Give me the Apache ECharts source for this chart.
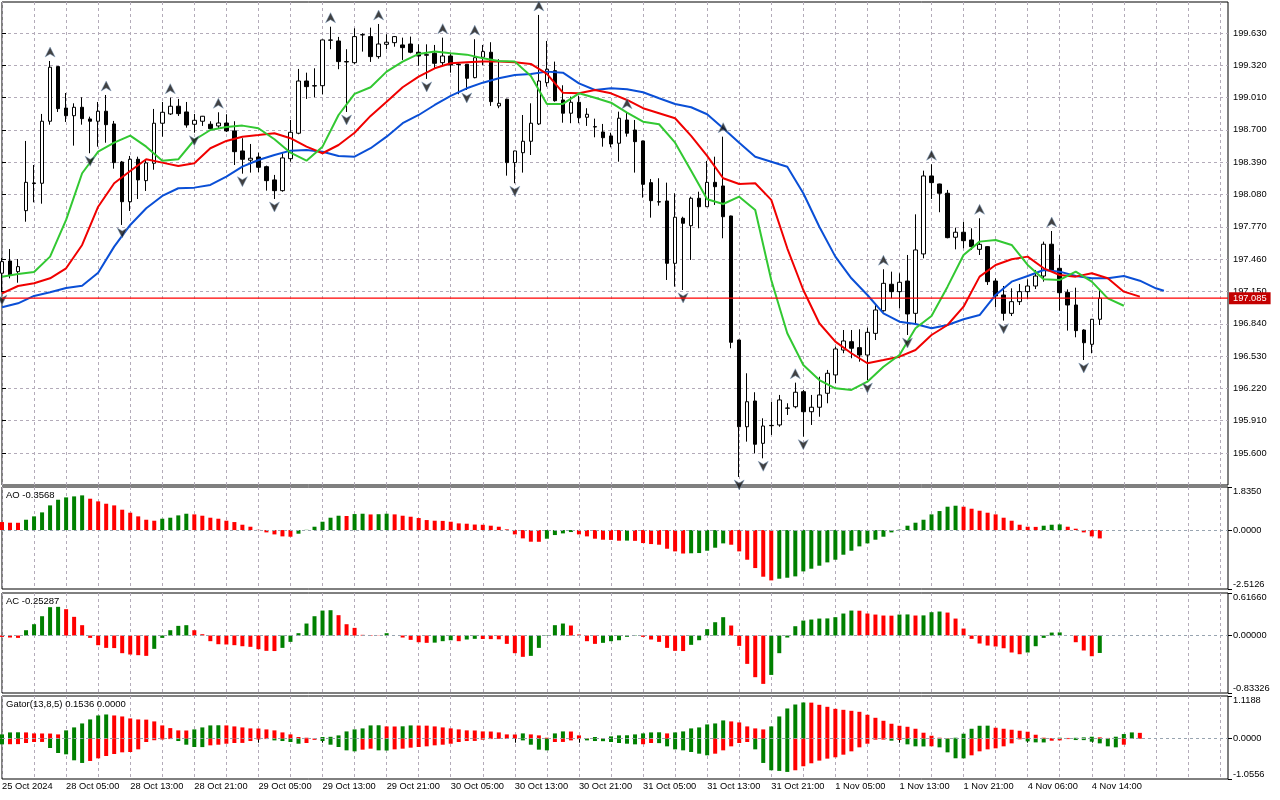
<!DOCTYPE html>
<html><head><meta charset="utf-8">
<script src="https://cdn.jsdelivr.net/npm/echarts@6.0.0/dist/echarts.min.js"></script>
<style>html,body{margin:0;padding:0;background:#fff}#c{width:1280px;height:800px}</style>
</head><body><div id="c"></div>
<script>
// ---------- DATA ----------
// candles: [open, close, low, high], one per H1 bar
const candles = [
[197.325,197.436,197.145,197.471],[197.442,197.305,197.276,197.557],[197.340,197.388,197.234,197.461],[197.925,198.197,197.819,198.594],
[198.191,198.186,198.005,198.363],[198.188,198.783,197.992,198.853],[198.783,199.301,198.750,199.361],[199.307,198.904,198.872,199.310],
[198.910,198.836,198.776,199.054],[198.836,198.917,198.549,198.955],[198.917,198.808,198.750,199.013],[198.805,198.783,198.476,198.827],
[198.783,198.879,198.539,198.968],[198.879,198.750,198.577,199.035],[198.757,198.386,198.328,198.786],[198.392,198.011,197.788,198.402],
[198.011,198.418,197.922,198.450],[198.418,198.220,198.037,198.443],[198.213,198.383,198.114,198.418],[198.380,198.764,198.318,198.901],
[198.764,198.869,198.635,198.968],[198.853,198.927,198.843,199.009],[198.927,198.856,198.834,198.997],[198.872,198.747,198.721,198.968],
[198.754,198.792,198.673,198.853],[198.783,198.831,198.738,198.834],[198.754,198.712,198.699,198.783],[198.738,198.766,198.712,198.869],
[198.766,198.690,198.680,198.850],[198.690,198.491,198.363,198.783],[198.498,198.418,198.280,198.620],[198.409,198.428,198.290,198.565],
[198.440,198.341,198.294,198.481],[198.347,198.213,198.117,198.357],[198.220,198.117,198.037,198.268],[198.117,198.431,198.107,198.476],
[198.424,198.677,198.395,198.795],[198.668,199.169,198.658,199.285],[199.169,199.115,198.997,199.249],[199.124,199.121,199.013,199.291],
[199.124,199.563,199.042,199.566],[199.560,199.563,199.474,199.690],[199.553,199.355,199.282,199.592],[199.355,199.352,198.872,199.474],
[199.345,199.595,199.333,199.675],[199.611,199.614,199.451,199.627],[199.595,199.403,199.352,199.681],[199.403,199.524,199.383,199.716],
[199.521,199.541,199.474,199.617],[199.537,199.595,199.498,199.601],[199.515,199.489,199.371,199.585],[199.524,199.445,199.435,199.595],
[199.445,199.409,199.316,199.521],[199.416,199.422,199.189,199.521],[199.435,199.339,199.291,199.515],[199.345,199.409,199.316,199.585],
[199.409,199.323,199.249,199.435],[199.330,199.326,199.042,199.339],[199.330,199.195,199.083,199.333],[199.201,199.393,199.195,199.570],
[199.397,199.451,199.323,199.515],[199.445,198.971,198.930,199.541],[198.930,198.955,198.908,199.378],[198.994,198.386,198.261,198.999],
[198.386,198.498,198.188,198.500],[198.481,198.591,198.290,198.843],[198.591,198.764,198.459,198.955],[198.757,199.169,198.747,199.803],
[199.153,199.282,199.115,199.553],[199.268,198.980,198.971,199.355],[198.987,198.860,198.769,199.128],[198.860,198.965,198.764,199.019],
[198.965,198.817,198.764,199.028],[198.821,198.850,198.738,198.908],[198.731,198.728,198.629,198.808],[198.680,198.625,198.539,198.757],
[198.642,198.565,198.533,198.673],[198.572,198.812,198.395,198.875],[198.795,198.668,198.635,198.865],[198.699,198.587,198.290,198.795],
[198.594,198.178,198.050,198.597],[198.194,198.021,197.858,198.229],[198.011,198.008,197.973,198.236],[198.018,197.420,197.260,198.194],
[197.420,197.862,197.196,198.092],[197.852,197.804,197.164,197.867],[197.781,198.044,197.452,198.059],[198.044,197.963,197.756,198.107],
[197.963,198.197,197.960,198.402],[198.197,198.155,197.980,198.443],[198.162,197.867,197.660,198.635],[197.874,196.662,196.605,197.877],
[196.684,195.852,195.370,196.687],[195.852,196.092,195.709,196.365],[196.099,195.684,195.597,196.183],[195.693,195.859,195.549,195.933],
[195.862,195.865,195.773,196.092],[195.869,196.109,195.852,196.157],[196.029,196.032,195.965,196.077],[196.044,196.183,196.029,196.275],
[196.188,195.996,195.757,196.205],[195.996,196.039,195.869,196.157],[196.039,196.157,195.948,196.332],[196.173,196.365,196.077,196.397],
[196.349,196.598,196.269,196.620],[196.588,196.675,196.557,196.780],[196.668,196.605,196.509,196.780],[196.611,196.540,196.476,196.787],
[196.540,196.758,196.300,196.802],[196.748,196.972,196.684,197.020],[196.965,197.228,196.956,197.363],[197.219,197.148,197.084,197.340],
[197.148,197.238,196.989,197.324],[197.250,196.934,196.732,197.500],[196.940,197.548,196.828,197.890],[197.510,198.258,197.468,198.309],
[198.258,198.194,198.037,198.370],[198.181,198.092,197.910,198.184],[198.092,197.666,197.660,198.124],[197.670,197.718,197.554,197.762],
[197.718,197.637,197.564,197.819],[197.644,197.580,197.548,197.756],[197.554,197.602,197.500,197.852],[197.580,197.244,197.212,197.586],
[197.250,197.107,196.998,197.276],[197.116,196.940,196.870,197.202],[196.940,197.052,196.914,197.180],[197.052,197.148,197.020,197.222],
[197.148,197.202,197.075,197.266],[197.202,197.298,197.173,197.356],[197.298,197.603,197.244,197.628],[197.603,197.356,197.349,197.730],
[197.372,197.138,196.965,197.500],[197.141,197.020,196.774,197.170],[197.020,196.774,196.710,197.186],[196.780,196.658,196.492,196.787],
[196.643,196.883,196.557,196.886],[196.883,197.085,196.828,197.164]
];
const lastPrice = 197.085;

// Alligator lines: [bar index, price] (jaw shifted 8, teeth 5, lips 3)
const jawPts = [[0,196.998],[2,197.036],[4,197.107],[6,197.142],[8,197.183],[10,197.205],[12,197.330],[14,197.580],[16,197.788],[18,197.948],[20,198.066],[22,198.140],[24,198.146],[26,198.172],[28,198.251],[30,198.347],[32,198.411],[34,198.459],[36,198.501],[38,198.507],[40,198.491],[42,198.450],[44,198.443],[46,198.524],[48,198.635],[50,198.764],[52,198.843],[54,198.939],[56,199.026],[58,199.099],[60,199.153],[62,199.195],[64,199.227],[66,199.237],[68,199.259],[70,199.249],[72,199.147],[74,199.083],[76,199.099],[78,199.090],[80,199.061],[82,199.003],[84,198.949],[86,198.917],[88,198.850],[90,198.716],[92,198.577],[94,198.443],[96,198.395],[98,198.347],[100,198.092],[102,197.771],[104,197.484],[106,197.276],[108,197.116],[110,196.940],[112,196.860],[114,196.838],[116,196.797],[118,196.828],[120,196.883],[122,196.924],[124,197.116],[126,197.244],[128,197.298],[130,197.356],[132,197.340],[134,197.298],[136,197.276],[138,197.276],[140,197.298],[142,197.253],[144,197.180],[145,197.157]];
const teethPts = [[0,197.132],[2,197.202],[4,197.228],[6,197.276],[8,197.372],[10,197.596],[12,197.963],[14,198.188],[16,198.306],[18,198.418],[20,198.386],[22,198.354],[24,198.380],[26,198.524],[28,198.594],[30,198.635],[32,198.651],[34,198.668],[36,198.620],[38,198.539],[40,198.476],[42,198.555],[44,198.673],[46,198.834],[48,198.971],[50,199.109],[52,199.211],[54,199.291],[56,199.339],[58,199.349],[60,199.355],[62,199.355],[64,199.349],[66,199.333],[68,199.237],[70,199.057],[72,199.051],[74,199.083],[76,199.051],[78,198.987],[80,198.908],[82,198.860],[84,198.812],[86,198.642],[88,198.450],[90,198.236],[92,198.181],[94,198.188],[96,198.028],[98,197.564],[100,197.164],[102,196.845],[104,196.668],[106,196.557],[108,196.461],[110,196.492],[112,196.524],[114,196.588],[116,196.732],[118,196.828],[120,197.004],[122,197.292],[124,197.404],[126,197.459],[128,197.484],[130,197.372],[132,197.308],[134,197.292],[136,197.324],[138,197.276],[140,197.148],[142,197.100]];
const lipsPts = [[0,197.292],[2,197.318],[4,197.337],[6,197.484],[8,197.836],[10,198.284],[12,198.491],[14,198.577],[16,198.645],[18,198.539],[20,198.405],[22,198.418],[24,198.603],[26,198.699],[28,198.728],[30,198.741],[32,198.716],[34,198.610],[36,198.481],[38,198.405],[40,198.539],[42,198.843],[44,199.045],[46,199.109],[48,199.259],[50,199.355],[52,199.429],[54,199.451],[56,199.435],[58,199.422],[60,199.387],[62,199.361],[64,199.355],[66,199.217],[68,198.949],[70,198.949],[72,199.051],[74,199.009],[76,198.961],[78,198.865],[80,198.779],[82,198.754],[84,198.577],[86,198.309],[88,198.034],[90,197.989],[92,198.059],[94,197.932],[96,197.260],[98,196.749],[100,196.444],[102,196.300],[104,196.221],[106,196.205],[108,196.284],[110,196.428],[112,196.540],[114,196.797],[116,196.915],[118,197.196],[120,197.500],[122,197.628],[124,197.644],[126,197.596],[128,197.404],[130,197.267],[132,197.260],[134,197.340],[136,197.244],[138,197.084],[140,197.013]];

// Fractal bars
const fractalUp = [6,13,21,27,41,47,55,59,67,78,90,99,110,116,122,131];
const fractalDown = [0,11,15,24,30,34,43,53,58,64,85,92,95,100,108,113,125,135];

// Awesome Oscillator
const ao = [0.341,0.313,0.310,0.440,0.583,0.753,1.051,1.293,1.392,1.435,1.478,1.336,1.222,1.122,1.051,0.867,0.739,0.583,0.440,0.398,
0.483,0.526,0.625,0.696,0.668,0.611,0.526,0.483,0.398,0.341,0.227,0.142,0.010,-0.099,-0.185,-0.270,-0.284,-0.156,0.010,0.142,
0.355,0.526,0.611,0.600,0.682,0.696,0.665,0.675,0.696,0.668,0.611,0.568,0.512,0.426,0.398,0.390,0.355,0.284,0.270,0.235,
0.225,0.185,0.142,0.030,-0.185,-0.355,-0.497,-0.500,-0.369,-0.213,-0.142,-0.085,-0.185,-0.270,-0.369,-0.412,-0.420,-0.455,-0.450,-0.460,
-0.554,-0.597,-0.625,-0.796,-0.909,-1.000,-0.990,-0.980,-0.881,-0.753,-0.568,-0.625,-0.909,-1.265,-1.620,-1.989,-2.146,-2.074,-2.032,-1.975,
-1.762,-1.648,-1.520,-1.378,-1.265,-1.051,-0.881,-0.696,-0.568,-0.412,-0.284,-0.099,0.015,0.185,0.313,0.440,0.668,0.810,0.995,1.037,
0.995,0.909,0.824,0.739,0.668,0.526,0.398,0.227,0.142,0.135,0.185,0.227,0.240,0.142,0.057,-0.099,-0.270,-0.3568];

// Accelerator Oscillator
const ac = [-0.020,-0.029,-0.034,0.077,0.164,0.280,0.411,0.416,0.382,0.271,0.150,-0.034,-0.140,-0.179,-0.182,-0.256,-0.275,-0.285,-0.295,-0.193,
-0.034,0.077,0.140,0.150,0.077,0.019,-0.082,-0.126,-0.130,-0.140,-0.155,-0.164,-0.198,-0.222,-0.225,-0.179,-0.092,0.034,0.174,0.280,
0.362,0.367,0.295,0.164,0.111,0.010,0.007,0.003,0.034,0.000,-0.029,-0.063,-0.097,-0.106,-0.103,-0.082,-0.068,-0.082,-0.058,-0.048,
-0.050,-0.052,-0.055,-0.121,-0.256,-0.309,-0.295,-0.179,-0.005,0.150,0.174,0.145,0.015,-0.082,-0.121,-0.106,-0.082,-0.068,-0.019,-0.005,
-0.019,-0.058,-0.092,-0.179,-0.222,-0.225,-0.135,-0.068,0.092,0.193,0.266,0.145,-0.150,-0.411,-0.604,-0.701,-0.571,-0.256,-0.029,0.135,
0.217,0.232,0.246,0.248,0.266,0.319,0.362,0.360,0.319,0.304,0.290,0.288,0.304,0.306,0.290,0.292,0.338,0.348,0.333,0.246,
0.101,-0.048,-0.116,-0.145,-0.159,-0.184,-0.246,-0.271,-0.246,-0.155,-0.034,0.043,0.045,0.000,-0.097,-0.217,-0.300,-0.25287];

// Gator oscillator: upper |jaw-teeth|, lower -|teeth-lips|
const gatorUp = [0.113,0.165,0.168,0.165,0.139,0.137,0.135,0.113,0.218,0.296,0.400,0.505,0.609,0.635,0.609,0.583,0.531,0.505,0.500,0.453,
0.348,0.278,0.218,0.215,0.244,0.296,0.348,0.352,0.348,0.322,0.296,0.270,0.267,0.244,0.218,0.165,0.113,0.044,0.026,0.005,
0.044,0.050,0.087,0.191,0.244,0.270,0.348,0.352,0.322,0.320,0.325,0.348,0.345,0.342,0.322,0.296,0.270,0.244,0.218,0.215,
0.191,0.188,0.165,0.113,0.110,0.139,0.113,0.087,0.026,0.139,0.191,0.188,0.087,0.010,0.044,0.010,0.061,0.087,0.090,0.113,
0.139,0.165,0.168,0.139,0.165,0.191,0.270,0.296,0.374,0.400,0.479,0.453,0.426,0.322,0.270,0.244,0.322,0.583,0.792,0.896,
0.949,0.945,0.888,0.836,0.783,0.757,0.731,0.705,0.627,0.548,0.470,0.392,0.339,0.313,0.261,0.157,0.078,0.026,0.010,0.026,
0.131,0.261,0.339,0.342,0.287,0.261,0.235,0.209,0.183,0.104,0.026,0.017,0.026,0.020,0.024,0.035,0.052,0.035,0.020,0.052,
0.122,0.165,0.1536];
const gatorDown = [-0.148,-0.145,-0.142,-0.113,-0.087,-0.085,-0.244,-0.374,-0.409,-0.566,-0.635,-0.583,-0.514,-0.453,-0.400,-0.357,-0.348,-0.279,-0.087,-0.040,
-0.020,-0.010,-0.061,-0.157,-0.218,-0.220,-0.174,-0.157,-0.131,-0.113,-0.110,-0.061,-0.020,-0.010,-0.044,-0.061,-0.087,-0.131,-0.113,-0.030,
-0.061,-0.157,-0.218,-0.305,-0.331,-0.287,-0.261,-0.305,-0.310,-0.279,-0.261,-0.235,-0.218,-0.200,-0.174,-0.157,-0.131,-0.087,-0.061,-0.058,
-0.026,-0.010,-0.005,-0.003,-0.002,-0.044,-0.157,-0.287,-0.305,-0.087,-0.085,-0.044,-0.010,-0.044,-0.061,-0.065,-0.087,-0.113,-0.131,-0.148,
-0.145,-0.113,-0.116,-0.200,-0.279,-0.305,-0.348,-0.392,-0.435,-0.392,-0.305,-0.200,-0.113,-0.087,-0.279,-0.635,-0.827,-0.844,-0.870,-0.827,
-0.722,-0.644,-0.574,-0.522,-0.487,-0.418,-0.331,-0.226,-0.131,-0.026,-0.024,-0.052,-0.035,-0.148,-0.200,-0.203,-0.198,-0.226,-0.357,-0.513,
-0.515,-0.435,-0.331,-0.279,-0.252,-0.200,-0.122,-0.017,-0.070,-0.096,-0.098,-0.052,-0.044,-0.010,-0.035,-0.037,-0.078,-0.122,-0.200,-0.226,
-0.157];

// Axis tick labels
const timeLabels = ['25 Oct 2024','28 Oct 05:00','28 Oct 13:00','28 Oct 21:00','29 Oct 05:00','29 Oct 13:00','29 Oct 21:00','30 Oct 05:00',
'30 Oct 13:00','30 Oct 21:00','31 Oct 05:00','31 Oct 13:00','31 Oct 21:00','1 Nov 05:00','1 Nov 13:00','1 Nov 21:00','4 Nov 06:00','4 Nov 14:00'];
const priceTicks = [195.600,195.910,196.220,196.530,196.840,197.150,197.460,197.770,198.080,198.390,198.700,199.010,199.320,199.630];
const aoTicks = [-2.5126, 0, 1.8350];
const acTicks = [-0.83326, 0, 0.61660];
const gatorTicks = [-1.0556, 0, 1.1188];

// ---------- CHART ----------
const FONT = 'Liberation Sans';
const FS = 9.3;
const GREEN = '#008000', RED = '#ff0000';
const GRIDC = '#b3abb9';
const N_SLOTS = 154;
const slots = Array.from({length: N_SLOTS}, (_, i) => String(i));
const L = 2, W = 1226;

function catAxis(gi, withLabels) {
  const lblInt = (i) => i % 8 === 0 && i / 8 < timeLabels.length;
  return {
    type: 'category', gridIndex: gi, data: slots, boundaryGap: false,
    axisLine: {show: false},
    axisTick: withLabels ? {show: true, interval: lblInt, length: 4, lineStyle: {color: '#000'}} : {show: false},
    axisLabel: withLabels ? {show: true, interval: lblInt, formatter: (v, i) => timeLabels[i / 8] || '',
      align: 'left', margin: 3, fontSize: FS, fontFamily: FONT, color: '#000'} : {show: false},
    splitLine: {show: true, interval: (i) => i % 4 === 0, lineStyle: {color: GRIDC, type: [3, 3], width: 1}}
  };
}
function indAxis(gi, ticks, dec) {
  const mn = ticks[0], mx = ticks[ticks.length - 1];
  const rich = {
    t: {padding: [9, 0, 0, 0], fontSize: FS, fontFamily: FONT, color: '#000'},
    b: {padding: [0, 0, 9, 0], fontSize: FS, fontFamily: FONT, color: '#000'},
    m: {fontSize: FS, fontFamily: FONT, color: '#000'}
  };
  return {
    type: 'value', gridIndex: gi, min: mn, max: mx, interval: -mn, position: 'right',
    axisLine: {show: false},
    axisTick: {show: true, length: 4, customValues: ticks, lineStyle: {color: '#000'}},
    axisLabel: {show: true, margin: 5, customValues: ticks, fontSize: FS, fontFamily: FONT, color: '#000', rich,
      formatter: (v) => {
        const s = Number(v).toFixed(dec);
        if (Math.abs(v - mx) < 1e-9) return '{t|' + s + '}';
        if (Math.abs(v - mn) < 1e-9) return '{b|' + s + '}';
        return '{m|' + s + '}';
      }},
    splitLine: {show: false}
  };
}
const zeroLine = {silent: true, symbol: 'none', label: {show: false},
  lineStyle: {color: '#98a4b0', type: [3, 3], width: 1}, data: [{yAxis: 0}]};

function colorByPrev(arr, first) {
  return arr.map((v, i) => ({value: v, itemStyle: {color: i === 0 ? first : (v > arr[i - 1] ? GREEN : RED)}}));
}
function colorByAbs(arr, first) {
  return arr.map((v, i) => ({value: v, itemStyle: {color: i === 0 ? first : (Math.abs(v) > Math.abs(arr[i - 1]) ? GREEN : RED)}}));
}

const border = {show: true, borderColor: '#000', borderWidth: 1, outerBoundsMode: 'none'};
const titleStyle = {fontSize: 9.5, fontWeight: 'normal', fontFamily: FONT, color: '#000'};
const option = {
  animation: false,
  backgroundColor: '#fff',
  title: [
    {text: 'AO ' + ao[ao.length - 1].toFixed(4), left: 6, top: 490, padding: 0, textStyle: titleStyle},
    {text: 'AC ' + ac[ac.length - 1].toFixed(5), left: 6, top: 596, padding: 0, textStyle: titleStyle},
    {text: 'Gator(13,8,5) ' + gatorUp[gatorUp.length - 1].toFixed(4) + ' ' + (0).toFixed(4), left: 6, top: 699, padding: 0, textStyle: titleStyle}
  ],
  grid: [
    Object.assign({left: L, top: 2, width: W, height: 483}, border),
    Object.assign({left: L, top: 487, width: W, height: 102}, border),
    Object.assign({left: L, top: 593, width: W, height: 100}, border),
    Object.assign({left: L, top: 696, width: W, height: 83}, border),
    {left: L, top: 33, width: W, height: 420, show: false, outerBoundsMode: 'none'}
  ],
  xAxis: [catAxis(0, false), catAxis(1, false), catAxis(2, false), catAxis(3, true),
    {type: 'value', gridIndex: 4, show: false, min: 0, max: 1}],
  yAxis: [
    {type: 'value', gridIndex: 0, min: 195.293, max: 199.927, show: false, splitLine: {show: false}},
    indAxis(1, aoTicks, 4),
    indAxis(2, acTicks, 5),
    indAxis(3, gatorTicks, 4),
    {type: 'value', gridIndex: 4, min: priceTicks[0], max: priceTicks[priceTicks.length - 1], interval: 0.31, position: 'right',
      axisLine: {show: false},
      axisTick: {show: true, length: 4, lineStyle: {color: '#000'}},
      axisLabel: {margin: 5, fontSize: FS, fontFamily: FONT, color: '#000', formatter: (v) => Number(v).toFixed(3)},
      splitLine: {show: true, lineStyle: {color: GRIDC, type: [3, 3], width: 1}}}
  ],
  series: [
    {type: 'candlestick', xAxisIndex: 0, yAxisIndex: 0, data: candles, barWidth: 4, z: 2,
      itemStyle: {color: '#fff', color0: '#000', borderColor: '#000', borderColor0: '#000', borderWidth: 1}},
    {type: 'line', name: 'Jaw', xAxisIndex: 0, yAxisIndex: 0, data: jawPts, symbol: 'none', z: 3,
      itemStyle: {color: '#0a4fd6'}, lineStyle: {color: '#0a4fd6', width: 2}},
    {type: 'line', name: 'Teeth', xAxisIndex: 0, yAxisIndex: 0, data: teethPts, symbol: 'none', z: 3,
      itemStyle: {color: '#f00000'}, lineStyle: {color: '#f00000', width: 2}},
    {type: 'line', name: 'Lips', xAxisIndex: 0, yAxisIndex: 0, data: lipsPts, symbol: 'none', z: 3,
      itemStyle: {color: '#32c832'}, lineStyle: {color: '#32c832', width: 2}},
    {type: 'line', name: 'Bid', xAxisIndex: 0, yAxisIndex: 0, z: 5, symbol: 'none', clip: false,
      data: [[0, lastPrice], [N_SLOTS - 1, lastPrice]],
      itemStyle: {color: '#ff0000'}, lineStyle: {color: '#ff0000', width: 1.2},
      endLabel: {show: true, distance: 1, formatter: () => lastPrice.toFixed(3),
        backgroundColor: '#c40000', color: '#fff', padding: [2, 4, 1, 4], fontSize: FS, fontFamily: FONT}},
    {type: 'scatter', xAxisIndex: 0, yAxisIndex: 0, z: 4,
      data: fractalUp.map(k => [k, candles[k][3]]),
      symbol: 'path://M5 0 L10 10 L5 7 L0 10 Z', symbolSize: [10, 10], symbolOffset: [0, -9],
      itemStyle: {color: '#111', borderColor: '#7d9cc0', borderWidth: 0.6}},
    {type: 'scatter', xAxisIndex: 0, yAxisIndex: 0, z: 4,
      data: fractalDown.map(k => [k, candles[k][2]]),
      symbol: 'path://M0 0 L5 3 L10 0 L5 10 Z', symbolSize: [10, 10], symbolOffset: [0, 8],
      itemStyle: {color: '#111', borderColor: '#7d9cc0', borderWidth: 0.6}},
    {type: 'bar', xAxisIndex: 1, yAxisIndex: 1, data: colorByPrev(ao, RED), barWidth: 4, markLine: zeroLine},
    {type: 'bar', xAxisIndex: 2, yAxisIndex: 2, data: colorByPrev(ac, RED), barWidth: 4, markLine: zeroLine},
    {type: 'bar', xAxisIndex: 3, yAxisIndex: 3, data: colorByAbs(gatorUp, GREEN), barWidth: 4, markLine: zeroLine},
    {type: 'bar', xAxisIndex: 3, yAxisIndex: 3, data: colorByAbs(gatorDown, GREEN), barWidth: 4, barGap: '-100%'}
  ]
};
const chart = echarts.init(document.getElementById('c'), null, {renderer: 'canvas'});
chart.setOption(option);
</script></body></html>
